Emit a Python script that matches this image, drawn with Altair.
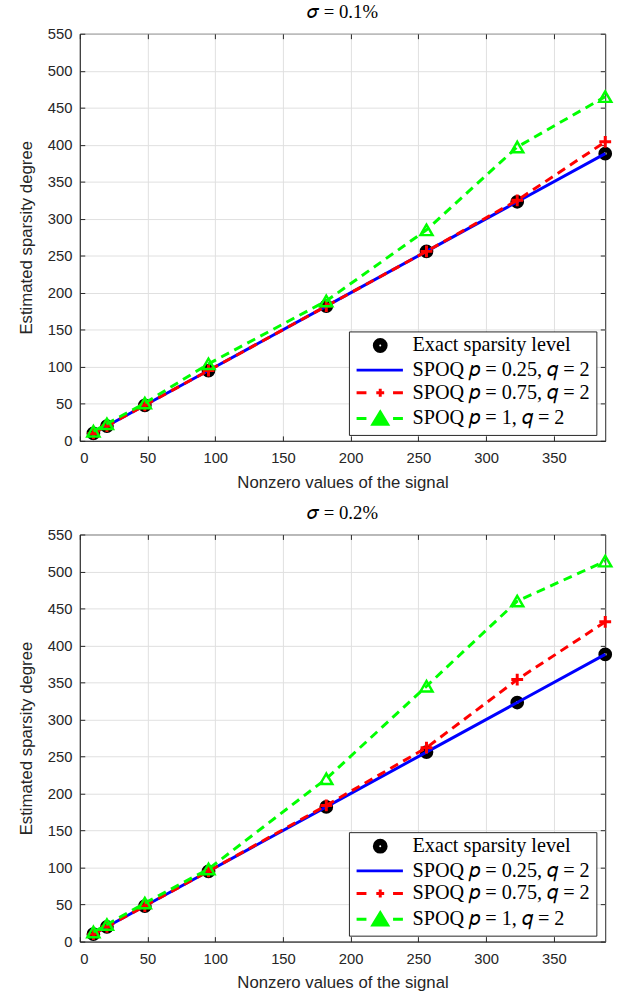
import altair as alt
import pandas as pd

# ---------------- data ----------------
x_vals = [10, 20, 48, 95, 182, 256, 323, 388]

top_exact = [10, 20, 48, 95, 182, 256, 323, 388]
top_p025 = [10, 20, 48, 95, 182, 256, 323, 388]
top_p075 = [10, 20, 48, 95, 182, 256, 325, 404]
top_p1 = [13, 23, 51, 104, 189, 285, 397, 465]

bot_exact = [10, 20, 48, 95, 182, 256, 323, 388]
bot_p025 = [10, 20, 48, 95, 182, 256, 323, 388]
bot_p075 = [10, 20, 48, 95, 184, 262, 354, 432]
bot_p1 = [13, 23, 52, 98, 220, 345, 460, 514]

series_names = [
    "Exact sparsity level",
    "SPOQ 𝑝 = 0.25, 𝑞 = 2",
    "SPOQ 𝑝 = 0.75, 𝑞 = 2",
    "SPOQ 𝑝 = 1, 𝑞 = 2",
]
panel_titles = ["𝜎 = 0.1%", "𝜎 = 0.2%"]
x_ticks = [0, 50, 100, 150, 200, 250, 300, 350]
y_ticks = [0, 50, 100, 150, 200, 250, 300, 350, 400, 450, 500, 550]

COLORS = ["#000000", "#0000ff", "#ff0000", "#00ff00"]
FILLS = ["#000000", "transparent", "#ff0000", "#00ff00"]

# legend symbols (unit coords, scaled by sqrt(size)/2 = 5 px)
LEG_CIRCLE = ("M4.7,0A1.2,1.2 0 1 1 2.3,0A1.2,1.2 0 1 1 4.7,0Z"
              "M4.0,0A0.5,0.5 0 1 0 3.0,0A0.5,0.5 0 1 0 4.0,0Z")
LEG_LINE = "M-1.3,0H8.1"
LEG_RED = "M-1.3,0H0.7M6.1,0H8.1M2.7,0H4.3M3.5,-0.8V0.8"
LEG_GREEN = "M-1.3,0H0.7M6.1,0H8.1M3.5,-1.3L5.0,1.2L2.0,1.2Z"
LEG_PATHS = [LEG_CIRCLE, LEG_LINE, LEG_RED, LEG_GREEN]

PLUS = "M-1,0H1M0,-1V1"
X_DOMAIN = [0, 388]
Y_DOMAIN = [0, 550]


def make_df(ex, p025, p075, p1):
    rows = []
    for name, ys in zip(series_names, [ex, p025, p075, p1]):
        for xv, yv in zip(x_vals, ys):
            rows.append({"series": name, "x": xv, "y": yv})
    return pd.DataFrame(rows)


def panel(title, df):
    base = alt.Chart(df)
    xs = alt.Scale(domain=X_DOMAIN, nice=False, zero=False)
    ys = alt.Scale(domain=Y_DOMAIN, nice=False)
    xenc = alt.X("x:Q", scale=xs,
                 axis=alt.Axis(values=x_ticks, title="Nonzero values of the signal"))
    yenc = alt.Y("y:Q", scale=ys,
                 axis=alt.Axis(values=y_ticks, title="Estimated sparsity degree"))
    f = lambda i: alt.datum.series == series_names[i]

    exact = base.transform_filter(f(0)).mark_point(
        shape="circle", filled=False, size=71, strokeWidth=5.5,
        color="#000000", opacity=1
    ).encode(x=xenc, y=yenc)
    blue = base.transform_filter(f(1)).mark_line(
        color="#0000ff", strokeWidth=3
    ).encode(x=xenc, y=yenc)
    red_line = base.transform_filter(f(2)).mark_line(
        color="#ff0000", strokeWidth=3, strokeDash=[9, 6]
    ).encode(x=xenc, y=yenc)
    red_pts = base.transform_filter(f(2)).mark_point(
        shape=PLUS, filled=False, size=144, strokeWidth=3,
        color="#ff0000", opacity=1
    ).encode(x=xenc, y=yenc)
    green_line = base.transform_filter(f(3)).mark_line(
        color="#00ff00", strokeWidth=3, strokeDash=[9, 6]
    ).encode(x=xenc, y=yenc)
    green_pts = base.transform_filter(f(3)).mark_point(
        shape="triangle-up", filled=False, size=150, strokeWidth=2.5,
        color="#00ff00", opacity=1
    ).encode(x=xenc, y=yenc)

    leg = alt.Legend(
        orient="none", legendX=273, legendY=302, title=None,
        labelFont="Liberation Serif", labelFontSize=20.5, labelColor="#000000",
        labelLimit=400, symbolSize=100, symbolStrokeWidth=3,
        strokeColor="#262626", fillColor="#ffffff", padding=4,
        rowPadding=2, labelOffset=40, symbolOffset=0, cornerRadius=0,
    )
    carrier = base.transform_filter("false").mark_point(
        filled=False, opacity=1
    ).encode(
        shape=alt.Shape("series:N", scale=alt.Scale(domain=series_names, range=LEG_PATHS), legend=leg),
        stroke=alt.Stroke("series:N", scale=alt.Scale(domain=series_names, range=COLORS), legend=leg),
        fill=alt.Fill("series:N", scale=alt.Scale(domain=series_names, range=FILLS), legend=leg),
    )

    main = alt.layer(exact, blue, red_line, red_pts, green_line, green_pts, carrier)

    tick_axis = dict(labels=False, grid=False, domain=False, title=None,
                     ticks=True, tickSize=5, offset=-5, tickColor="#262626",
                     tickWidth=1)
    ticks_lb = base.transform_filter("false").mark_point(opacity=0).encode(
        x=alt.X("x:Q", scale=xs, axis=alt.Axis(values=x_ticks, orient="bottom", **tick_axis)),
        y=alt.Y("y:Q", scale=ys, axis=alt.Axis(values=y_ticks, orient="left", **tick_axis)),
    )
    ticks_tr = base.transform_filter("false").mark_point(opacity=0).encode(
        x=alt.X("x:Q", scale=xs, axis=alt.Axis(values=x_ticks, orient="top", **tick_axis)),
        y=alt.Y("y:Q", scale=ys, axis=alt.Axis(values=y_ticks, orient="right", **tick_axis)),
    )

    return alt.layer(main, ticks_lb, ticks_tr).resolve_axis(
        x="independent", y="independent"
    ).properties(
        width=533, height=413,
        title=alt.TitleParams(
            title, font="Liberation Serif", fontSize=19, fontWeight="normal",
            color="#000000", offset=5, anchor="middle",
        ),
    )


top = panel(panel_titles[0], make_df(top_exact, top_p025, top_p075, top_p1))
bot = panel(panel_titles[1], make_df(bot_exact, bot_p025, bot_p075, bot_p1))

chart = alt.vconcat(top, bot, spacing=12).resolve_scale(
    shape="independent", stroke="independent", fill="independent"
).resolve_legend(
    shape="independent", stroke="independent", fill="independent"
).configure(
    padding={"left": 17, "top": -5, "right": 0, "bottom": 0},
    background="#ffffff",
).configure_view(
    stroke="#262626", strokeWidth=1
).configure_axis(
    labelFont="Liberation Sans", labelFontSize=15, labelColor="#262626",
    titleFont="Liberation Sans", titleFontSize=17, titleFontWeight="normal",
    titleColor="#262626", domainColor="#262626", tickSize=0,
    gridColor="#dfdfdf", gridWidth=1,
).configure_axisX(
    labelPadding=10, titlePadding=9
).configure_axisY(
    labelPadding=8, titlePadding=12
)

chart.save("out.html", embed_options={"renderer": "svg", "actions": False})
